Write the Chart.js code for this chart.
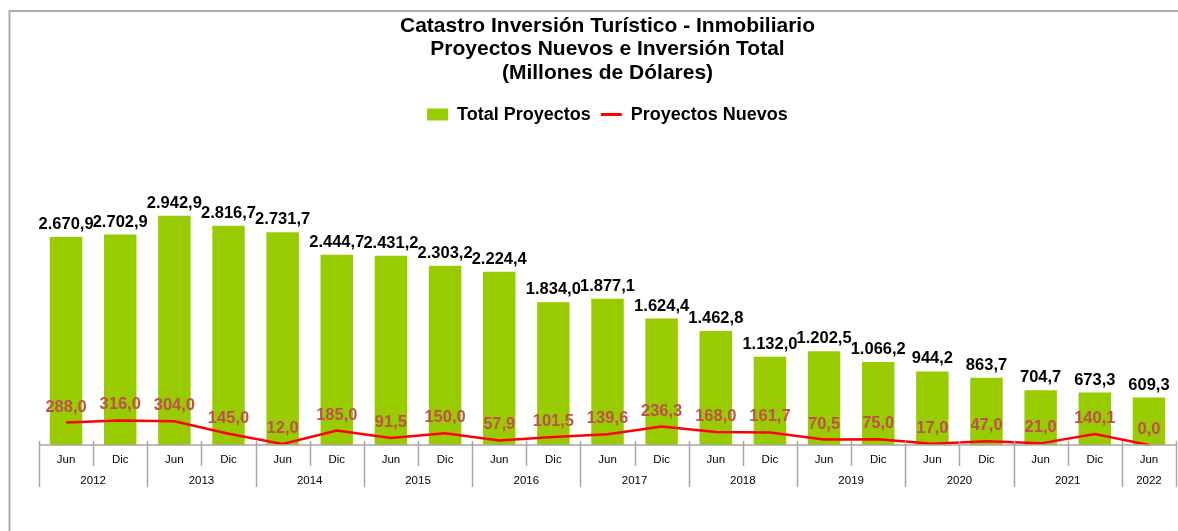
<!DOCTYPE html>
<html><head><meta charset="utf-8">
<script src="https://cdn.jsdelivr.net/npm/chart.js@4/dist/chart.umd.min.js"></script>
<style>html,body{margin:0;padding:0;background:#fff;overflow:hidden}#wrap{position:relative;width:1178px;height:531px}</style>
</head><body><div id="wrap"><canvas id="c" width="1178" height="531"></canvas></div>
<script>
const periods = ['Jun','Dic','Jun','Dic','Jun','Dic','Jun','Dic','Jun','Dic','Jun','Dic','Jun','Dic','Jun','Dic','Jun','Dic','Jun','Dic','Jun'];
const years = ['2012','2013','2014','2015','2016','2017','2018','2019','2020','2021','2022'];
const totalProyectos = [2670.9, 2702.9, 2942.9, 2816.7, 2731.7, 2444.7, 2431.2, 2303.2, 2224.4, 1834.0, 1877.1, 1624.4, 1462.8, 1132.0, 1202.5, 1066.2, 944.2, 863.7, 704.7, 673.3, 609.3];
const proyectosNuevos = [288.0, 316.0, 304.0, 145.0, 12.0, 185.0, 91.5, 150.0, 57.9, 101.5, 139.6, 236.3, 168.0, 161.7, 70.5, 75.0, 17.0, 47.0, 21.0, 140.1, 0.0];
const titleLines = ['Catastro Inversión Turístico - Inmobiliario', 'Proyectos Nuevos e Inversión Total', '(Millones de Dólares)'];
const seriesNames = ['Total Proyectos', 'Proyectos Nuevos'];

const FONT = "'Liberation Sans', Arial, sans-serif";
const GREEN = '#99cc00', RED = '#ff0000', LBL_RED = '#c0504d', AXIS = '#a6a6a6';

function fmt(v) {
  const parts = v.toFixed(1).split('.');
  return parts[0].replace(/\B(?=(\d{3})+(?!\d))/g, '.') + ',' + parts[1];
}

const framePlugin = {
  id: 'frame',
  beforeDraw(chart) {
    const ctx = chart.ctx;
    ctx.save();
    ctx.strokeStyle = '#ababab';
    ctx.lineWidth = 2;
    ctx.beginPath();
    ctx.moveTo(9.5, 531); ctx.lineTo(9.5, 11); ctx.lineTo(1178, 11);
    ctx.stroke();
    ctx.restore();
  }
};

const axisPlugin = {
  id: 'twoLevelAxis',
  afterDatasetsDraw(chart) {
    const ctx = chart.ctx, xs = chart.scales.x, area = chart.chartArea;
    const n = periods.length;
    const w = (xs.getPixelForValue(1) - xs.getPixelForValue(0));
    const edge = i => xs.getPixelForValue(0) - w / 2 + i * w;
    const y0 = area.bottom;
    ctx.save();
    ctx.strokeStyle = AXIS;
    ctx.lineWidth = 1.5;
    ctx.beginPath();
    ctx.moveTo(edge(0), y0); ctx.lineTo(edge(n), y0);
    for (let i = 0; i <= n; i++) {
      const x = Math.round(edge(i)) + 0.5;
      const major = (i % 2 === 0) || i === n;
      ctx.moveTo(x, y0 - 4);
      ctx.lineTo(x, y0 + (major ? 42 : 21));
    }
    ctx.stroke();
    ctx.fillStyle = '#000';
    ctx.font = '11.5px ' + FONT;
    ctx.textAlign = 'center';
    ctx.textBaseline = 'middle';
    for (let i = 0; i < n; i++) {
      ctx.fillText(periods[i], xs.getPixelForValue(i), y0 + 15);
    }
    years.forEach((yr, k) => {
      const a = edge(2 * k), b = edge(Math.min(2 * k + 2, n));
      ctx.fillText(yr, (a + b) / 2, y0 + 36);
    });
    ctx.restore();
  }
};

const labelPlugin = {
  id: 'valueLabels',
  afterDraw(chart) {
    const ctx = chart.ctx;
    ctx.save();
    ctx.textAlign = 'center';
    ctx.textBaseline = 'alphabetic';
    ctx.font = 'bold 16.5px ' + FONT;
    const barMeta = chart.getDatasetMeta(0);
    ctx.fillStyle = '#000';
    barMeta.data.forEach((el, i) => {
      ctx.fillText(fmt(totalProyectos[i]), el.x, el.y - 8);
    });
    const lineMeta = chart.getDatasetMeta(1);
    ctx.fillStyle = LBL_RED;
    lineMeta.data.forEach((el, i) => {
      ctx.fillText(fmt(proyectosNuevos[i]), el.x, el.y - 11);
    });
    ctx.restore();
  }
};

new Chart(document.getElementById('c'), {
  data: {
    labels: periods.map((p, i) => p + ' ' + years[Math.floor(i / 2)]),
    datasets: [
      { type: 'bar', label: seriesNames[0], data: totalProyectos, backgroundColor: GREEN, borderWidth: 0,
        barPercentage: 0.6, categoryPercentage: 1.0, order: 2 },
      { type: 'line', label: seriesNames[1], data: proyectosNuevos, borderColor: RED, backgroundColor: RED,
        borderWidth: 2.5, pointRadius: 0, pointHoverRadius: 0, tension: 0, clip: false, order: 1 }
    ]
  },
  options: {
    responsive: false,
    animation: false,
    devicePixelRatio: 1,
    layout: { padding: { left: 39, right: 2, top: 0, bottom: 86 } },
    scales: {
      x: { display: false, offset: true },
      y: { display: false, min: 0, max: 4000 }
    },
    plugins: {
      tooltip: { enabled: false },
      title: {
        display: true, text: titleLines, color: '#000',
        font: { family: FONT, size: 21, weight: 'bold', lineHeight: 1.12 },
        padding: { top: 14, bottom: 11 }
      },
      legend: {
        display: true, position: 'top',
        labels: {
          color: '#000', font: { family: FONT, size: 18, weight: 'bold' },
          usePointStyle: true, pointStyleWidth: 21, boxHeight: 12, padding: 10,
          sort: (a, b) => a.datasetIndex - b.datasetIndex,
          generateLabels(chart) {
            const items = Chart.defaults.plugins.legend.labels.generateLabels(chart);
            items.forEach(it => {
              if (it.datasetIndex === 0) {
                it.pointStyle = 'rect'; it.fillStyle = GREEN; it.strokeStyle = GREEN; it.lineWidth = 0;
              } else {
                it.pointStyle = 'line'; it.strokeStyle = RED; it.fillStyle = RED; it.lineWidth = 3;
              }
            });
            return items;
          }
        }
      }
    }
  },
  plugins: [framePlugin, axisPlugin, labelPlugin]
});
</script>
</body></html>
